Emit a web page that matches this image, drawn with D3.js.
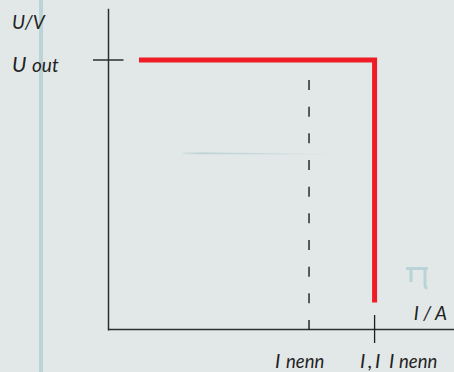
<!DOCTYPE html>
<html>
<head>
<meta charset="utf-8">
<script src="https://cdn.jsdelivr.net/npm/d3@7"></script>
<style>
  body { margin: 0; background: #e2e8e8; }
  svg { display: block; }
  text { font-family: Lato, "Open Sans", sans-serif; font-style: italic; fill: #232323; }
</style>
</head>
<body>
<svg id="chart" width="454" height="372"></svg>
<script>
// schematic current limit curve, current in units of I nenn, voltage in units of U out
var limitCurve = [[0.152, 1], [1.327, 1], [1.327, 0.1]];
var nominalCurrent = 1;      // dashed marker
var limitCurrent = 1.327;    // tick on the I axis
var outputVoltage = 1;       // tick on the U axis
var yLabels = ['U/V', 'U', 'out'];
var xLabels = ['I / A', 'I', 'nenn', 'I', ',', 'I', 'I', 'nenn'];

var svg = d3.select('#chart');
var width = 454, height = 372;

var x = d3.scaleLinear().domain([0, 1.72]).range([108.5, 453.4]);
var y = d3.scaleLinear().domain([0, 1.19]).range([329.5, 8.8]);

// pale stripe on the left
svg.append('rect')
  .attr('x', 39).attr('y', 0)
  .attr('width', 4).attr('height', height)
  .attr('fill', '#bcd4d7');

// faint fading stroke in the plot
var grad = svg.append('defs').append('linearGradient')
  .attr('id', 'fade').attr('x1', '0%').attr('x2', '100%');
grad.append('stop').attr('offset', '0%').attr('stop-color', '#bed3d5').attr('stop-opacity', 0.3);
grad.append('stop').attr('offset', '12%').attr('stop-color', '#bed3d5').attr('stop-opacity', 1);
grad.append('stop').attr('offset', '55%').attr('stop-color', '#c6d8da').attr('stop-opacity', 0.8);
grad.append('stop').attr('offset', '100%').attr('stop-color', '#d6e0e1').attr('stop-opacity', 0.3);
svg.append('path')
  .attr('d', 'M183,152.2 L300,153.2 L330,153.6 L330,154.4 L300,154.4 L183,154.2 Z')
  .attr('fill', 'url(#fade)');

// faint glyph mark at lower right
svg.append('path')
  .attr('d', 'M406,268.5 L428,268.5 M411,268.5 L411,282 M425,268.5 L425,285 Q425,288 427.5,288')
  .attr('fill', 'none')
  .attr('stroke', '#b9d3d6')
  .attr('stroke-width', 3);

// axes
var axisColor = '#2e2e2e';
svg.append('line')
  .attr('x1', x(0)).attr('x2', x(0))
  .attr('y1', y(1.19)).attr('y2', y(0) + 1)
  .attr('stroke', axisColor).attr('stroke-width', 1.5);
svg.append('line')
  .attr('x1', x(0)).attr('x2', width)
  .attr('y1', y(0)).attr('y2', y(0))
  .attr('stroke', axisColor).attr('stroke-width', 1.7);

// ticks
svg.append('line')
  .attr('x1', x(0) - 15.5).attr('x2', x(0) + 15)
  .attr('y1', y(outputVoltage)).attr('y2', y(outputVoltage))
  .attr('stroke', axisColor).attr('stroke-width', 1.5);
svg.append('line')
  .attr('x1', x(limitCurrent)).attr('x2', x(limitCurrent))
  .attr('y1', y(0) - 14.5).attr('y2', y(0) + 13.5)
  .attr('stroke', '#1e1e1e').attr('stroke-width', 1.3);

// dashed nominal current
svg.append('line')
  .attr('x1', x(nominalCurrent)).attr('x2', x(nominalCurrent))
  .attr('y1', 80).attr('y2', y(0))
  .attr('stroke', '#1e1e1e').attr('stroke-width', 1.4)
  .attr('stroke-dasharray', '10,16.67');

// red limit curve
svg.append('path')
  .datum(limitCurve)
  .attr('d', d3.line().x(function(d) { return x(d[0]); }).y(function(d) { return y(d[1]); }))
  .attr('fill', 'none')
  .attr('stroke', '#ee1c25')
  .attr('stroke-width', 5)
  .attr('stroke-linejoin', 'miter');

// labels
svg.append('text').attr('x', 12).attr('y', 28.5)
  .style('font-size', '19px').text(yLabels[0]);

var uo = svg.append('text').attr('x', 12).attr('y', 72);
uo.append('tspan').style('font-size', '21px').text(yLabels[1]);
uo.append('tspan').attr('x', 32).style('font-size', '19px').text(yLabels[2]);

svg.append('text').attr('x', 447).attr('y', 320)
  .attr('text-anchor', 'end')
  .style('font-size', '19px').text(xLabels[0]);

var t1 = svg.append('text').attr('y', 368);
t1.append('tspan').attr('x', 275).style('font-size', '20px').text(xLabels[1]);
t1.append('tspan').attr('x', 286).style('font-size', '18.5px').text(xLabels[2]);

var t2 = svg.append('text').attr('y', 368);
t2.append('tspan').attr('x', 360).style('font-size', '20px').text(xLabels[3]);
t2.append('tspan').attr('x', 368).style('font-size', '20px').text(xLabels[4]);
t2.append('tspan').attr('x', 375).style('font-size', '20px').text(xLabels[5]);
t2.append('tspan').attr('x', 389).style('font-size', '20px').text(xLabels[6]);
t2.append('tspan').attr('x', 399).style('font-size', '18.5px').text(xLabels[7]);
</script>
</body>
</html>
